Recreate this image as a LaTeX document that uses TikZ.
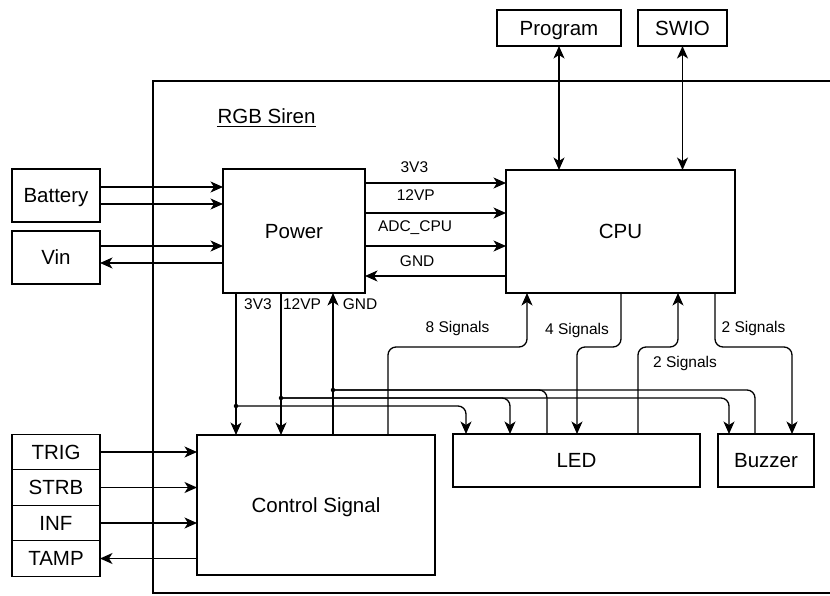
\documentclass[tikz,border=0pt]{standalone}
\usepackage{fontspec}
\setmainfont{Liberation Sans}
\usetikzlibrary{arrows.meta, positioning}
\newcommand{\boxfont}{\fontsize{20.5}{24}\selectfont}
\newcommand{\lblfont}{\fontsize{15.5}{18}\selectfont}

\begin{document}
\begin{tikzpicture}[x=1pt, y=-1pt, line width=1.3pt, >={Stealth[length=12.5pt,width=11pt,inset=3.5pt]},
    box/.style={draw, rectangle, inner sep=0pt, outer sep=0pt, font=\boxfont, text height=14.8pt, text depth=0pt},
    lbl/.style={inner sep=0pt, font=\lblfont, text height=1.6ex, text depth=.3ex},
    dot/.style={fill, circle, inner sep=0pt, minimum size=4.5pt}]
    \useasboundingbox (0,0) rectangle (830,595);
    \clip (0,0) rectangle (830,595);

    \draw (840,81) -- (153,81) -- (153,593) -- (840,593);
    \node[anchor=base, inner sep=0pt, font=\boxfont] (title) at (266.5,123) {RGB Siren};
    \draw[line width=1pt] ([yshift=-3.5pt]title.base west) -- ([yshift=-3.5pt]title.base east);

    \node[box, minimum width=88pt, minimum height=53pt] (battery) at (56,195.5) {Battery};
    \node[box, minimum width=88pt, minimum height=53pt] (vin) at (56,257.5) {Vin};
    \node[box, minimum width=142pt, minimum height=124pt] (power) at (294,231) {Power};
    \node[box, minimum width=229pt, minimum height=123pt] (cpu) at (620.5,231.5) {CPU};
    \node[box, minimum width=124pt, minimum height=36pt] (program) at (559,28) {Program};
    \node[box, minimum width=89pt, minimum height=36pt] (swio) at (682.5,28) {SWIO};
    \node[box, minimum width=238pt, minimum height=140pt] (ctrl) at (316,505) {Control Signal};
    \node[box, minimum width=247pt, minimum height=53pt] (led) at (576.5,460.5) {LED};
    \node[box, minimum width=96pt, minimum height=53pt] (buzzer) at (766,460.5) {Buzzer};
    \node[box, minimum width=88pt, minimum height=35.5pt] (trig) at (56,452) {TRIG};
    \node[box, minimum width=88pt, minimum height=35.5pt] (strb) [below=0pt of trig] {STRB};
    \node[box, minimum width=88pt, minimum height=35.5pt] (inf) [below=0pt of strb] {INF};
    \node[box, minimum width=88pt, minimum height=35.5pt] (tamp) [below=0pt of inf] {TAMP};

    \coordinate (j3v3) at (236,406);
    \coordinate (j12vp) at (281,398);
    \coordinate (jgnd) at (333,390);

    \draw[->] (battery.east |- 0,187) -- (power.west |- 0,187);
    \draw[->] (battery.east |- 0,204) -- (power.west |- 0,204);
    \draw[->] (vin.east |- 0,246) -- (power.west |- 0,246);
    \draw[<-] (vin.east |- 0,263) -- (power.west |- 0,263);

    \draw[->] (power.east |- 0,183) -- node[lbl, pos=.35, yshift=14pt] {3V3} (cpu.west |- 0,183);
    \draw[->] (power.east |- 0,213) -- node[lbl, pos=.36, yshift=16pt] {12VP} (cpu.west |- 0,213);
    \draw[->] (power.east |- 0,246) -- node[lbl, pos=.355, yshift=18pt] {ADC\_CPU} (cpu.west |- 0,246);
    \draw[->] (cpu.west |- 0,276) -- node[lbl, pos=.63, yshift=13pt] {GND} (power.east |- 0,276);

    \draw[<->] (program) -- (cpu.north -| program);
    \draw[<->] (swio) -- (cpu.north -| swio);

    \draw[->] (power.south -| j3v3) -- node[lbl, pos=.09, xshift=22pt] {3V3} (ctrl.north -| j3v3);
    \draw[->] (power.south -| j12vp) -- node[lbl, pos=.09, xshift=21pt] {12VP} (ctrl.north -| j12vp);
    \draw[->] (ctrl.north -| jgnd) -- node[lbl, pos=.91, xshift=27pt] {GND} (power.south -| jgnd);
    \node[dot] (d3v3) at (j3v3) {};
    \node[dot] (d12vp) at (j12vp) {};
    \node[dot] (dgnd) at (jgnd) {};

    \draw[->, rounded corners=8pt] (j3v3) -| (led.north -| 466,0);
    \draw[->, rounded corners=8pt] (j12vp) -| (led.north -| 510,0);
    \draw[->, rounded corners=8pt] (j12vp) -| (buzzer.north -| 729,0);
    \draw[rounded corners=8pt] (led.north -| 547,0) |- (jgnd);
    \draw[rounded corners=8pt] (buzzer.north -| 755,0) |- (jgnd);

    \draw[->, rounded corners=8pt] (ctrl.north -| 388,0) |- node[lbl, pos=.75, yshift=18pt] {8 Signals} (527,347) -- (cpu.south -| 527,0);
    \draw[->, rounded corners=8pt] (cpu.south -| 621,0) |- node[lbl, pos=1, yshift=16pt] {4 Signals} (577,347) -- (led.north -| 577,0);
    \draw[->, rounded corners=8pt] (led.north -| 638,0) |- node[lbl, pos=1, xshift=7pt, yshift=-17pt] {2 Signals} (678,347) -- (cpu.south -| 678,0);
    \draw[->, rounded corners=8pt] (cpu.south -| 715,0) |- node[lbl, pos=.75, yshift=18pt] {2 Signals} (792,347) -- (buzzer.north -| 792,0);

    \draw[->] (trig) -- (ctrl.west |- trig);
    \draw[->] (strb) -- (ctrl.west |- strb);
    \draw[->] (inf) -- (ctrl.west |- inf);
    \draw[<-] (tamp) -- (ctrl.west |- tamp);
\end{tikzpicture}
\end{document}
